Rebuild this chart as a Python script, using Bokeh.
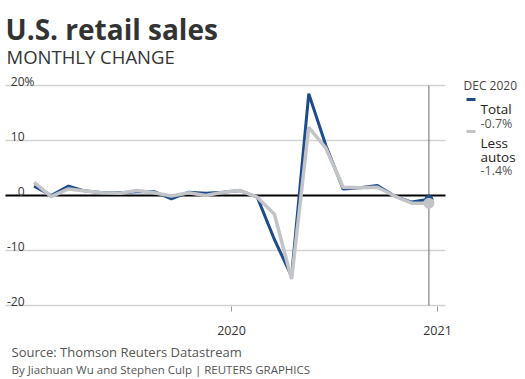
from bokeh.plotting import figure
from bokeh.models import Range1d, ColumnDataSource
from bokeh.embed import file_html
from bokeh.resources import INLINE
from bokeh.core.properties import value

# ---- data (monthly % change, Jan 2019 .. Dec 2020) ----
months = [
    "Jan 2019", "Feb 2019", "Mar 2019", "Apr 2019", "May 2019", "Jun 2019",
    "Jul 2019", "Aug 2019", "Sep 2019", "Oct 2019", "Nov 2019", "Dec 2019",
    "Jan 2020", "Feb 2020", "Mar 2020", "Apr 2020", "May 2020", "Jun 2020",
    "Jul 2020", "Aug 2020", "Sep 2020", "Oct 2020", "Nov 2020", "Dec 2020",
]
total = [1.7, 0.0, 1.7, 0.8, 0.5, 0.5, 0.7, 0.7, -0.6, 0.6, 0.4, 0.6,
         0.9, -0.3, -8.0, -14.7, 18.5, 9.1, 1.2, 1.4, 1.8, -0.1, -1.2, -0.7]
less_autos = [2.4, -0.2, 1.2, 0.8, 0.5, 0.4, 0.9, 0.5, -0.1, 0.5, 0.0, 0.6,
              0.9, -0.3, -3.4, -15.2, 12.4, 8.6, 1.5, 1.4, 1.5, -0.1, -1.4, -1.4]
y_ticks = [20, 10, 0, -10, -20]
y_tick_labels = ["20", "10", "0", "-10", "-20"]
x_ticks = [12, 24]            # months since Jan 2019 (year starts)
x_tick_labels = ["2020", "2021"]

FONT = "Open Sans"
BLUE = "#1d4c8c"
GREY = "#c2c4c7"
TXT = "#333333"

# ---- canvas / scale set-up: frame covers the whole canvas ----
W, H = 525, 379
PPX = 206 / 12.0        # pixels per month
PPY = 5.5               # pixels per percentage point
X0 = 12 - 231 / PPX     # data x at left edge of canvas
YT = 20 + 85 / PPY      # data y at top edge of canvas

def X(px):
    return X0 + px / PPX

def Y(py):
    return YT - py / PPY

p = figure(width=W, height=H, output_backend="svg", toolbar_location=None,
           x_range=Range1d(X(0), X(W)), y_range=Range1d(Y(H), Y(0)),
           min_border=0)
p.axis.visible = False
p.grid.visible = False
p.outline_line_color = None
p.background_fill_color = "white"
p.border_fill_color = "white"

xpos = [i + 0.5 for i in range(len(months))]
src = ColumnDataSource(dict(x=xpos, total=total, less=less_autos))

PL, PR = X(5), X(445)   # plot-area horizontal extent

# grid lines
grid_y = [t for t in y_ticks if t != 0]
p.segment(x0=[PL] * len(grid_y), y0=grid_y, x1=[PR] * len(grid_y), y1=grid_y,
          line_color="#d2d2d2", line_width=1.6)

# vertical marker at latest month
p.segment(x0=[xpos[-1]], y0=[min(y_ticks)], x1=[xpos[-1]], y1=[max(y_ticks)],
          line_color="#6a6a6a", line_width=1)

# zero line
p.segment(x0=[PL], y0=[0], x1=[PR], y1=[0], line_color="black", line_width=2.2)

# x ticks + labels
yb = min(y_ticks)
p.segment(x0=x_ticks, y0=[yb - 1 / PPY] * 2, x1=x_ticks, y1=[yb - 6 / PPY] * 2,
          line_color="#999999", line_width=1)
p.text(x=x_ticks, y=[yb] * 2, text=x_tick_labels, y_offset=25,
       text_align="center", text_baseline="alphabetic", text_font=value(FONT),
       text_font_size="12.5px", text_color=TXT)

# y tick labels
p.text(x=[X(24)] * len(y_ticks), y=y_ticks, text=y_tick_labels, y_offset=-4.5,
       text_align="right", text_baseline="alphabetic", text_font=value(FONT),
       text_font_size="12px", text_color=TXT)
p.text(x=[X(24)], y=[max(y_ticks)], text=["%"], y_offset=-4.5,
       text_align="left", text_baseline="alphabetic", text_font=value(FONT),
       text_font_size="12px", text_color=TXT)

# data lines
p.line("x", "total", source=src, line_color=BLUE, line_width=3)
p.line("x", "less", source=src, line_color=GREY, line_width=3.5)
p.scatter([xpos[-1]], [total[-1]], size=9, fill_color=BLUE, line_color=None)
p.scatter([xpos[-1]], [less_autos[-1]], size=11, fill_color=GREY, line_color=None)

# ---- texts placed in page pixels ----
def lab(text, px, py, size, color=TXT, style="normal"):
    p.text(x=[X(px)], y=[Y(py)], text=[text], text_font=value(FONT),
           text_font_size=size, text_color=color, text_font_style=style,
           text_align="left", text_baseline="alphabetic")

lab("U.S. retail sales", 5, 28.5, "28px", "#333333", "bold")
lab("MONTHLY CHANGE", 6, 55.5, "18.5px", "#333333")
lab("Source: Thomson Reuters Datastream", 11, 351, "13px", "#555555")
lab("By Jiachuan Wu and Stephen Culp | REUTERS GRAPHICS", 11, 369, "11.5px", "#555555")

lab("DEC 2020", 463, 85, "12px", "#444444")
lab("Total", 480, 108, "13.5px", "#222222")
lab("-0.7%", 480, 123, "12.5px", "#555555")
lab("Less", 480, 142, "13.5px", "#222222")
lab("autos", 480, 156, "13.5px", "#222222")
lab("-1.4%", 480, 170, "12.5px", "#555555")

# legend swatches
p.segment(x0=[X(466)] * 2, y0=[Y(99), Y(131)], x1=[X(475)] * 2, y1=[Y(99), Y(131)],
          line_color=[BLUE, GREY], line_width=3)

open("out.html", "w").write(file_html(p, INLINE))
